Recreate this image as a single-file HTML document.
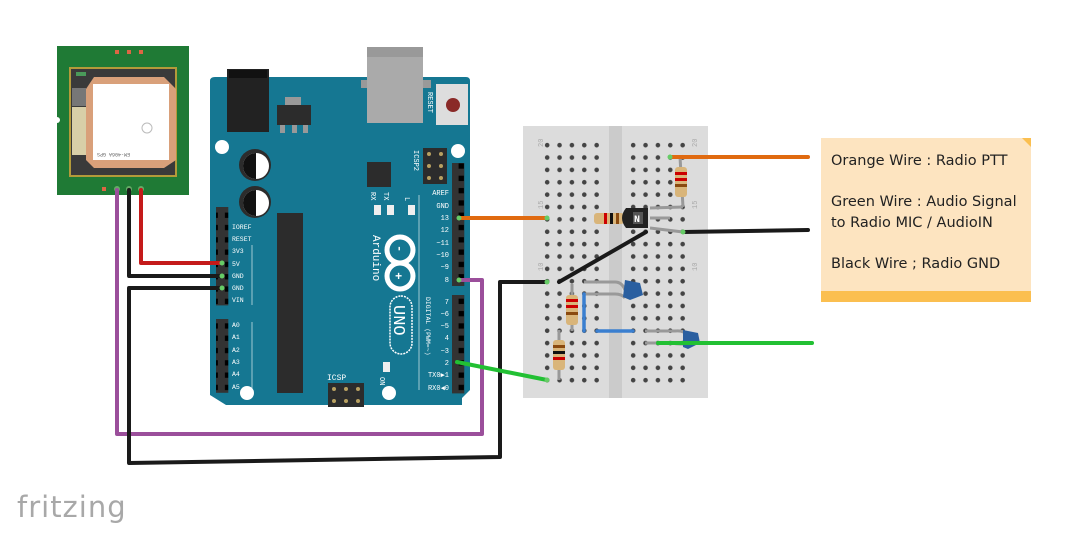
<!DOCTYPE html>
<html><head><meta charset="utf-8"><style>
html,body{margin:0;padding:0;background:#fff;width:1067px;height:538px;overflow:hidden}
svg{display:block}
</style></head><body>
<svg width="1067" height="538" viewBox="0 0 1067 538" xmlns="http://www.w3.org/2000/svg" font-family="Liberation Mono, monospace">
<defs>
<pattern id="holes" x="541" y="139" width="12.37" height="12.37" patternUnits="userSpaceOnUse">
<circle cx="6.18" cy="6.18" r="2.3" fill="#444"/>
</pattern>
<pattern id="holes2" x="627" y="139" width="12.37" height="12.37" patternUnits="userSpaceOnUse">
<circle cx="6.18" cy="6.18" r="2.3" fill="#444"/>
</pattern>
<pattern id="pins" x="0" y="0" width="12.3" height="12.3" patternUnits="userSpaceOnUse">
<rect x="0" y="0" width="12.3" height="12.3" fill="#333"/>
<rect x="3.5" y="3.5" width="5.3" height="5.3" fill="#000"/>
</pattern>
</defs>

<!-- GPS module -->
<rect x="57" y="46" width="132" height="149" fill="#1f7a35"/>
<rect x="70" y="68" width="106" height="108" fill="#3a3a3a" stroke="#b39a3a" stroke-width="2"/>
<rect x="72" y="107" width="14" height="48" fill="#d8cfa8"/>
<rect x="72" y="88" width="14" height="18" fill="#777"/>
<rect x="76" y="72" width="10" height="4" fill="#4a9a5a"/>
<path d="M94 77 H164 L176 89 V160 L164 168 H94 L86 160 V89 Z" fill="#d9a07a"/>
<rect x="93" y="84" width="76" height="76" fill="#fff"/>
<circle cx="147" cy="128" r="5" fill="none" stroke="#bbb" stroke-width="1"/>
<text x="130" y="157" font-size="5" fill="#666" transform="rotate(180 130 155)">EM-406A GPS</text>
<rect x="115" y="50" width="4" height="4" fill="#d64"/><rect x="127" y="50" width="4" height="4" fill="#d64"/><rect x="139" y="50" width="4" height="4" fill="#d64"/>
<rect x="102" y="187" width="4" height="4" fill="#d64"/>
<circle cx="117" cy="189" r="3" fill="#6a6"/><circle cx="129" cy="189" r="3" fill="#6a6"/><circle cx="141" cy="189" r="3" fill="#6a6"/>
<circle cx="57" cy="120" r="3" fill="#fff"/>

<!-- Arduino -->
<path d="M215 77 H466 Q470 77 470 81 V390 L462 398 V405 H226 L210 395 V81 Q210 77 215 77 Z" fill="#157792"/>
<rect x="227" y="69" width="42" height="63" fill="#222"/>
<rect x="229" y="70" width="38" height="8" fill="#111"/>
<rect x="285" y="97" width="16" height="8" fill="#999"/>
<rect x="277" y="105" width="34" height="20" fill="#2c2c2c"/>
<rect x="280" y="125" width="5" height="8" fill="#999"/><rect x="292" y="125" width="5" height="8" fill="#999"/><rect x="303" y="125" width="5" height="8" fill="#999"/>
<rect x="361" y="80" width="70" height="8" fill="#999"/>
<rect x="367" y="47" width="56" height="76" fill="#aaa"/>
<rect x="367" y="47" width="56" height="10" fill="#999"/>
<rect x="436" y="84" width="32" height="41" fill="#ddd"/>
<circle cx="453" cy="105" r="7" fill="#8a2a28"/>
<text x="428" y="92" font-size="7" fill="#fff" transform="rotate(90 428 92)">RESET</text>
<circle cx="222" cy="147" r="7" fill="#fff"/><circle cx="458" cy="151" r="7" fill="#fff"/>
<circle cx="247" cy="393" r="7" fill="#fff"/><circle cx="389" cy="393" r="7" fill="#fff"/>
<circle cx="255" cy="165" r="16" fill="#2c2c2c"/><circle cx="256" cy="166" r="13" fill="#fff"/><path d="M256 153 A13 13 0 0 0 256 179 Z" fill="#111"/>
<circle cx="255" cy="202" r="16" fill="#2c2c2c"/><circle cx="256" cy="203" r="13" fill="#fff"/><path d="M256 190 A13 13 0 0 0 256 216 Z" fill="#111"/>
<rect x="277" y="213" width="26" height="180" fill="#2c2c2c"/>
<rect x="367" y="162" width="24" height="25" fill="#2c2c2c"/>
<rect x="423" y="148" width="24" height="36" fill="#2c2c2c"/>
<circle cx="429" cy="154" r="2" fill="#b8a060"/><circle cx="441" cy="154" r="2" fill="#b8a060"/><circle cx="429" cy="166" r="2" fill="#b8a060"/><circle cx="441" cy="166" r="2" fill="#b8a060"/><circle cx="429" cy="178" r="2" fill="#b8a060"/><circle cx="441" cy="178" r="2" fill="#b8a060"/>
<text x="414" y="150" font-size="7" fill="#fff" transform="rotate(90 414 150)">ICSP2</text>
<rect x="374" y="205" width="7" height="10" fill="#eee"/><rect x="387" y="205" width="7" height="10" fill="#eee"/><rect x="408" y="205" width="7" height="10" fill="#eee"/>
<text x="371" y="192" font-size="7" fill="#fff" transform="rotate(90 371 192)">RX</text>
<text x="384" y="192" font-size="7" fill="#fff" transform="rotate(90 384 192)">TX</text>
<text x="405" y="197" font-size="7" fill="#fff" transform="rotate(90 405 197)">L</text>
<text x="373" y="235" font-size="11" fill="#fff" transform="rotate(90 373 235)">Arduino</text>
<g fill="none" stroke="#fff" stroke-width="5">
<circle cx="400" cy="250" r="13"/><circle cx="400" cy="276" r="13"/>
</g>
<text x="395" y="254" font-size="12" fill="#fff" font-weight="bold" transform="rotate(90 400 250)">-</text>
<text x="395" y="280" font-size="12" fill="#fff" font-weight="bold">+</text>
<rect x="390" y="296" width="22" height="58" rx="11" fill="none" stroke="#fff" stroke-width="1.5" stroke-dasharray="2 1"/>
<text x="394" y="305" font-size="17" fill="#fff" transform="rotate(90 394 305)">UNO</text>
<rect x="383" y="362" width="7" height="10" fill="#eee"/>
<text x="380" y="377" font-size="7" fill="#fff" transform="rotate(90 380 377)">ON</text>
<rect x="328" y="383" width="36" height="24" fill="#2c2c2c"/>
<circle cx="334" cy="389" r="2" fill="#b8a060"/><circle cx="346" cy="389" r="2" fill="#b8a060"/><circle cx="358" cy="389" r="2" fill="#b8a060"/><circle cx="334" cy="401" r="2" fill="#b8a060"/><circle cx="346" cy="401" r="2" fill="#b8a060"/><circle cx="358" cy="401" r="2" fill="#b8a060"/>
<text x="327" y="380" font-size="8" fill="#fff">ICSP</text>
<text x="426" y="297" font-size="6.5" fill="#fff" transform="rotate(90 426 297)">DIGITAL (PWM=~)</text>
<line x1="419" y1="195" x2="419" y2="390" stroke="#fff" stroke-width="0.6"/>
<rect x="452" y="163" width="12.3" height="123" fill="url(#pins)"/>
<rect x="452" y="295" width="12.3" height="98.4" fill="url(#pins)"/>
<g font-size="7" fill="#fff" text-anchor="end">
<text x="449" y="195">AREF</text><text x="449" y="208">GND</text><text x="449" y="220">13</text><text x="449" y="232">12</text><text x="449" y="245">~11</text><text x="449" y="257">~10</text><text x="449" y="269">~9</text><text x="449" y="282">8</text>
<text x="449" y="304">7</text><text x="449" y="316">~6</text><text x="449" y="328">~5</text><text x="449" y="340">4</text><text x="449" y="353">~3</text><text x="449" y="365">2</text><text x="449" y="377">TX0▶1</text><text x="449" y="390">RX0◀0</text>
</g>
<rect x="216" y="207" width="12.3" height="98.4" fill="url(#pins)"/>
<rect x="216" y="319" width="12.3" height="73.8" fill="url(#pins)"/>
<g font-size="6.5" fill="#fff">
<text x="232" y="229">IOREF</text><text x="232" y="241">RESET</text><text x="232" y="253">3V3</text><text x="232" y="266">5V</text><text x="232" y="278">GND</text><text x="232" y="290">GND</text><text x="232" y="302">VIN</text>
<text x="232" y="327">A0</text><text x="232" y="339">A1</text><text x="232" y="352">A2</text><text x="232" y="364">A3</text><text x="232" y="376">A4</text><text x="232" y="389">A5</text>
</g>
<line x1="252" y1="245" x2="252" y2="305" stroke="#fff" stroke-width="0.6"/>
<line x1="252" y1="322" x2="252" y2="392" stroke="#fff" stroke-width="0.6"/>

<!-- Breadboard -->
<rect x="523" y="126" width="185" height="272" fill="#dcdcdc"/>
<rect x="609" y="126" width="13" height="272" fill="#cbcbcb"/>
<rect x="541" y="139" width="61.85" height="247.4" fill="url(#holes)"/>
<rect x="627" y="139" width="61.85" height="247.4" fill="url(#holes2)"/>
<g font-size="7" fill="#aaa">
<text x="540" y="150" transform="rotate(-90 540 147)">20</text>
<text x="694" y="150" transform="rotate(-90 694 147)">20</text>
<text x="540" y="212" transform="rotate(-90 540 209)">15</text>
<text x="694" y="212" transform="rotate(-90 694 209)">15</text>
<text x="540" y="274" transform="rotate(-90 540 271)">10</text>
<text x="694" y="274" transform="rotate(-90 694 271)">10</text>
</g>

<g stroke="#999" stroke-width="3" fill="none">
<line x1="680" y1="157" x2="683" y2="207"/>
<path d="M650 208 L683 207 M650 218 L670 218 M650 228 L683 232"/>
<line x1="572" y1="284" x2="572" y2="331"/>
<line x1="559" y1="330" x2="559" y2="380"/>
<path d="M584 282 H615 Q622 282 625 290"/>
<path d="M584 294 H615 Q622 294 625 298"/>
<path d="M645 331 H675 Q685 330 688 336"/>
<path d="M645 343 H672 Q680 345 690 343"/>
</g>
<rect x="675" y="167" width="12" height="30" rx="3" fill="#d9b57a"/>
<rect x="675" y="172" width="12" height="3" fill="#c00"/><rect x="675" y="178" width="12" height="3" fill="#c00"/><rect x="675" y="184" width="12" height="3" fill="#8a4a10"/>
<rect x="594" y="213" width="30" height="11" rx="3" fill="#d9b57a"/>
<rect x="604" y="213" width="3" height="11" fill="#c00"/><rect x="610" y="213" width="3" height="11" fill="#111"/><rect x="616" y="213" width="3" height="11" fill="#8a4a10"/>
<path d="M626 208 H648 V228 H626 Q618 218 626 208 Z" fill="#222"/>
<rect x="633" y="212" width="10" height="12" fill="#555"/>
<text x="634" y="222" font-size="10" fill="#fff" font-weight="bold">N</text>
<rect x="566" y="295" width="12" height="30" rx="3" fill="#d9b57a"/>
<rect x="566" y="299" width="12" height="3" fill="#c00"/><rect x="566" y="305" width="12" height="3" fill="#c00"/><rect x="566" y="312" width="12" height="3" fill="#8a4a10"/>
<rect x="553" y="340" width="12" height="30" rx="3" fill="#d9b57a"/>
<rect x="553" y="345" width="12" height="3" fill="#8a4a10"/><rect x="553" y="351" width="12" height="3" fill="#111"/><rect x="553" y="357" width="12" height="3" fill="#c00"/>
<path d="M625 280 L640 283 L643 295 L630 300 L623 297 Z" fill="#2a5fa0"/>
<path d="M683 330 L698 333 L700 343 L688 349 L683 347 Z" fill="#2a5fa0"/>
<g stroke="#3a7fd0" stroke-width="3.5" stroke-linecap="round">
<line x1="584" y1="294" x2="584" y2="331"/>
<line x1="597" y1="331" x2="633" y2="331"/>
</g>

<g fill="none" stroke-linecap="round" stroke-linejoin="round" stroke-width="4">
<path d="M117 190 V434 H482 V280 H459" stroke="#9b4f9b"/>
<path d="M141 190 V263 H222" stroke="#c41a1a"/>
<path d="M129 190 V276 H222" stroke="#1a1a1a"/>
<path d="M222 288 H129 V463 L500 457 V282 H547" stroke="#1a1a1a"/>
<path d="M459 218 H547" stroke="#e06a10"/>
<path d="M457 362 L547 380" stroke="#22c033"/>
<path d="M670 157 H808" stroke="#e06a10"/>
<path d="M683 232 L808 230" stroke="#1a1a1a"/>
<path d="M658 343 H812" stroke="#22c033"/>
<path d="M559 282 L646 232" stroke="#1a1a1a"/>
</g>
<g fill="#6c6">
<circle cx="547" cy="218" r="2.5"/><circle cx="547" cy="282" r="2.5"/><circle cx="547" cy="380" r="2.5"/><circle cx="670" cy="157" r="2.5"/><circle cx="683" cy="232" r="2.5"/><circle cx="459" cy="218" r="2.5"/><circle cx="459" cy="280" r="2.5"/><circle cx="222" cy="263" r="2.5"/><circle cx="222" cy="276" r="2.5"/><circle cx="222" cy="288" r="2.5"/>
</g>

<rect x="821" y="138" width="210" height="164" fill="#fde4c0"/>
<rect x="821" y="291" width="210" height="11" fill="#fbbf50"/>
<path d="M1022 138 H1031 V147 Z" fill="#fbbf50"/>
<g font-family="DejaVu Sans, sans-serif" font-size="14.5" fill="#222">
<text x="831" y="165">Orange Wire : Radio PTT</text>
<text x="831" y="206">Green Wire : Audio Signal</text>
<text x="831" y="227">to Radio MIC / AudioIN</text>
<text x="831" y="268">Black Wire ; Radio GND</text>
</g>

<text x="17" y="517" font-family="DejaVu Sans, sans-serif" font-size="29" fill="#a8a8a8" letter-spacing="1">fritzing</text>
</svg>
</body></html>
